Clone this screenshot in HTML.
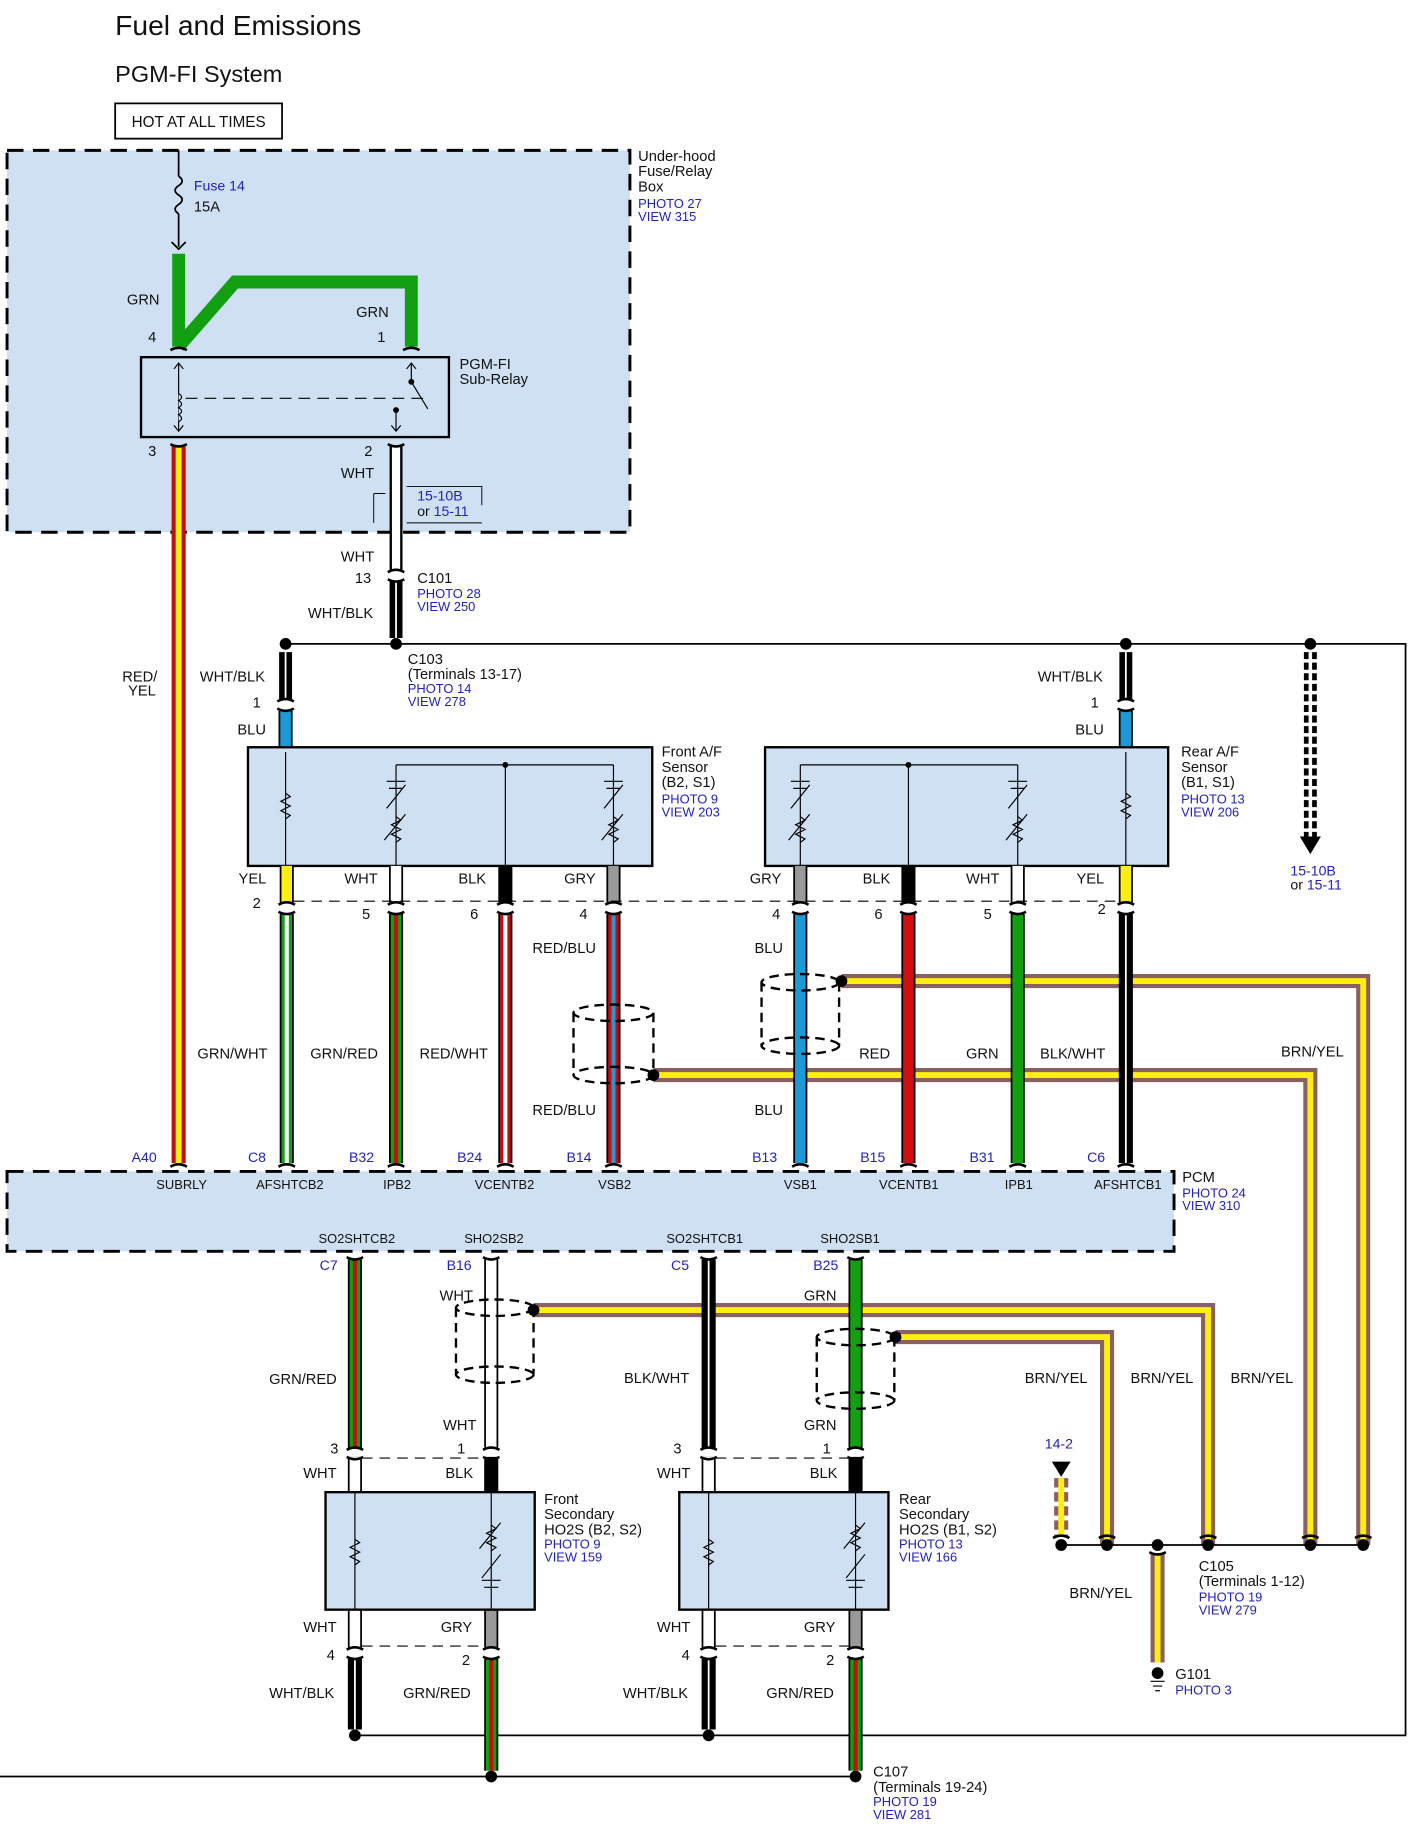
<!DOCTYPE html>
<html><head><meta charset="utf-8"><style>
html,body{margin:0;padding:0;background:#fff}
svg{display:block}
text{font-family:"Liberation Sans",Arial,sans-serif;font-size:12.5px;fill:#111}
.b{fill:#2222bb;font-size:11px}
.s{font-size:11px}
</style></head><body>
<svg width="1422" height="1847" viewBox="0 0 1210 1572" preserveAspectRatio="none" xmlns="http://www.w3.org/2000/svg">
<rect width="1210" height="1572" fill="#fff"/>
<text x="98" y="30" style="font-size:24px">Fuel and Emissions</text>
<text x="98" y="70" style="font-size:20px">PGM-FI System</text>
<rect x="98" y="88" width="142" height="30" fill="#fff" stroke="#000" stroke-width="1.5"/>
<text x="112" y="108" style="font-size:13px">HOT AT ALL TIMES</text>

<!-- fuse box area -->
<rect x="6" y="128" width="530" height="325" fill="#cfe0f3" stroke="#000" stroke-width="2.5" stroke-dasharray="14,8"/>
<text x="543" y="137">Under-hood</text><text x="543" y="150">Fuse/Relay</text><text x="543" y="163">Box</text>
<text x="543" y="177" class="b">PHOTO 27</text><text x="543" y="188" class="b">VIEW 315</text>
<!-- fuse -->
<line x1="152" y1="128" x2="152" y2="150" stroke="#000" stroke-width="1.5"/>
<path d="M152 150 q6 4 0 8 q-6 4 0 8 q6 4 0 8 q-6 4 0 8" fill="none" stroke="#000" stroke-width="1.5"/>
<line x1="152" y1="182" x2="152" y2="210" stroke="#000" stroke-width="1.5"/>
<path d="M146 206 L152 212 L158 206" fill="none" stroke="#000" stroke-width="1.5"/>
<text x="165" y="162" class="b" style="font-size:12px">Fuse 14</text><text x="165" y="180">15A</text>
<!-- green -->
<path d="M152 216 V295 M152 295 L200 240 H350 V295" fill="none" stroke="#12a012" stroke-width="11"/>
<text x="108" y="259">GRN</text><text x="303" y="270">GRN</text>
<text x="126" y="291">4</text><text x="321" y="291">1</text>
<rect x="120" y="304" width="262" height="68" fill="none" stroke="#000" stroke-width="2"/>
<text x="391" y="314">PGM-FI</text><text x="391" y="327">Sub-Relay</text>
<line x1="152" y1="310" x2="152" y2="366" stroke="#000"/>
<path d="M148 314 L152 309 L156 314 M148 362 L152 367 L156 362 M346 314 L350 309 L354 314 M333 362 L337 367 L341 362" fill="none" stroke="#000"/>
<path d="M152 335 q5 3 0 6 q5 3 0 6 q5 3 0 6 q5 3 0 6" fill="#cfe0f3" stroke="#000"/>
<line x1="158" y1="339" x2="360" y2="339" stroke="#000" stroke-dasharray="10,6"/>
<line x1="350" y1="310" x2="350" y2="325" stroke="#000"/><line x1="350" y1="325" x2="364" y2="348" stroke="#000"/>
<circle cx="350" cy="325" r="2.5"/><circle cx="337" cy="349" r="2.5"/>
<line x1="337" y1="349" x2="337" y2="366" stroke="#000"/>
<text x="126" y="388">3</text><text x="310" y="388">2</text>
<!-- RED/YEL -->
<line x1="152" y1="380" x2="152" y2="990" stroke="#c01010" stroke-width="12"/>
<line x1="152" y1="380" x2="152" y2="990" stroke="#ffef10" stroke-width="5"/>
<text x="104" y="580">RED/</text><text x="109" y="592">YEL</text>
<!-- WHT from relay -->
<line x1="337" y1="380" x2="337" y2="485" stroke="#000" stroke-width="11"/>
<line x1="337" y1="380" x2="337" y2="485" stroke="#fff" stroke-width="7"/>
<text x="290" y="407">WHT</text>
<path d="M318 420 V445 M318 420 H328 M346 414 H410 V430 M346 445 H410" fill="none" stroke="#000" stroke-width="0.8"/>
<text x="355" y="426" class="b" style="font-size:12px">15-10B</text><text x="355" y="439" style="font-size:12px">or <tspan fill="#2222bb">15-11</tspan></text>
<text x="290" y="478">WHT</text><text x="302" y="496">13</text>
<line x1="337" y1="495" x2="337" y2="543" stroke="#000" stroke-width="11"/>
<line x1="337" y1="495" x2="337" y2="543" stroke="#fff" stroke-width="1.5"/>
<text x="262" y="526">WHT/BLK</text>
<text x="355" y="496">C101</text><text x="355" y="509" class="b">PHOTO 28</text><text x="355" y="520" class="b">VIEW 250</text>

<!-- main ground line -->
<path d="M243 548 H1196 V1477 H302" fill="none" stroke="#000" stroke-width="1.5"/>
<line x1="0" y1="1512" x2="728" y2="1512" stroke="#000" stroke-width="1.5"/>
<g fill="#000"><circle cx="243" cy="548" r="5"/><circle cx="337" cy="548" r="5"/><circle cx="958" cy="548" r="5"/><circle cx="1115" cy="548" r="5"/>
<circle cx="302" cy="1477" r="5"/><circle cx="603" cy="1477" r="5"/><circle cx="418" cy="1512" r="5"/><circle cx="728" cy="1512" r="5"/></g>
<text x="347" y="565">C103</text><text x="347" y="578">(Terminals 13-17)</text><text x="347" y="590" class="b">PHOTO 14</text><text x="347" y="601" class="b">VIEW 278</text>
<!-- dashed arrow -->
<line x1="1115" y1="555" x2="1115" y2="712" stroke="#000" stroke-width="11" stroke-dasharray="6,3"/>
<line x1="1115" y1="555" x2="1115" y2="712" stroke="#fff" stroke-width="3"/>
<path d="M1106 712 L1124 712 L1115 727 Z"/>
<text x="1098" y="745" class="b" style="font-size:12px">15-10B</text><text x="1098" y="757" style="font-size:12px">or <tspan fill="#2222bb">15-11</tspan></text>

<!-- WHT/BLK drops -->
<g stroke="#000" stroke-width="11"><line x1="243" y1="555" x2="243" y2="595"/><line x1="958" y1="555" x2="958" y2="595"/></g>
<g stroke="#fff" stroke-width="1.5"><line x1="243" y1="555" x2="243" y2="595"/><line x1="958" y1="555" x2="958" y2="595"/></g>
<text x="170" y="580">WHT/BLK</text><text x="883" y="580">WHT/BLK</text>
<text x="215" y="602">1</text><text x="928" y="602">1</text>
<g stroke="#000" stroke-width="12"><line x1="243" y1="605" x2="243" y2="636"/><line x1="958" y1="605" x2="958" y2="636"/></g>
<g stroke="#1a9ad6" stroke-width="9"><line x1="243" y1="605" x2="243" y2="636"/><line x1="958" y1="605" x2="958" y2="636"/></g>
<text x="202" y="625">BLU</text><text x="915" y="625">BLU</text>

<!-- A/F sensors -->
<rect x="211" y="636" width="344" height="101" fill="#cfe0f3" stroke="#000" stroke-width="2"/>
<rect x="651" y="636" width="343" height="101" fill="#cfe0f3" stroke="#000" stroke-width="2"/>
<g stroke="#000" stroke-width="1" fill="none">
<line x1="243" y1="640" x2="243" y2="737"/><line x1="430" y1="651" x2="430" y2="737"/>
<path d="M337 651 H522 M337 651 V737 M522 651 V737"/>
<line x1="773" y1="651" x2="773" y2="737"/><line x1="958" y1="640" x2="958" y2="737"/>
<path d="M681 651 H866 M681 651 V737 M866 651 V737"/>
<path d="M243 675 l4 3 -8 4 8 4 -8 4 8 4 -4 3"/><path d="M958 675 l4 3 -8 4 8 4 -8 4 8 4 -4 3"/>
<path d="M337 695 l4 3 -8 4 8 4 -8 4 8 4 -4 3 M327 715 l18 -22 M522 695 l4 3 -8 4 8 4 -8 4 8 4 -4 3 M512 715 l18 -22 M681 695 l4 3 -8 4 8 4 -8 4 8 4 -4 3 M671 715 l18 -22 M866 695 l4 3 -8 4 8 4 -8 4 8 4 -4 3 M856 715 l18 -22"/>
<path d="M329 665 h16 M331 671 h12 M329 688 l16 -20 M514 665 h16 M516 671 h12 M514 688 l16 -20 M673 665 h16 M675 671 h12 M673 688 l16 -20 M858 665 h16 M860 671 h12 M858 688 l16 -20"/>
</g>
<circle cx="430" cy="651" r="2.5"/><circle cx="773" cy="651" r="2.5"/>
<text x="563" y="644">Front A/F</text><text x="563" y="657">Sensor</text><text x="563" y="670">(B2, S1)</text><text x="563" y="684" class="b">PHOTO 9</text><text x="563" y="695" class="b">VIEW 203</text>
<text x="1005" y="644">Rear A/F</text><text x="1005" y="657">Sensor</text><text x="1005" y="670">(B1, S1)</text><text x="1005" y="684" class="b">PHOTO 13</text><text x="1005" y="695" class="b">VIEW 206</text>

<!-- short stubs under sensors -->
<g stroke="#000" stroke-width="12">
<line x1="244" y1="737" x2="244" y2="768"/><line x1="337" y1="737" x2="337" y2="768"/><line x1="430" y1="737" x2="430" y2="768"/><line x1="522" y1="737" x2="522" y2="768"/>
<line x1="681" y1="737" x2="681" y2="768"/><line x1="773" y1="737" x2="773" y2="768"/><line x1="866" y1="737" x2="866" y2="768"/><line x1="958" y1="737" x2="958" y2="768"/></g>
<g stroke-width="9">
<line x1="244" y1="737" x2="244" y2="768" stroke="#ffef10"/><line x1="337" y1="737" x2="337" y2="768" stroke="#fff"/><line x1="522" y1="737" x2="522" y2="768" stroke="#999"/>
<line x1="681" y1="737" x2="681" y2="768" stroke="#999"/><line x1="866" y1="737" x2="866" y2="768" stroke="#fff"/><line x1="958" y1="737" x2="958" y2="768" stroke="#ffef10"/></g>
<line x1="250" y1="767" x2="952" y2="767" stroke="#000" stroke-dasharray="9,6"/>
<text x="203" y="752">YEL</text><text x="293" y="752">WHT</text><text x="390" y="752">BLK</text><text x="480" y="752">GRY</text>
<text x="638" y="752">GRY</text><text x="734" y="752">BLK</text><text x="822" y="752">WHT</text><text x="916" y="752">YEL</text>
<text x="215" y="773">2</text><text x="308" y="782">5</text><text x="400" y="782">6</text><text x="493" y="782">4</text>
<text x="657" y="782">4</text><text x="744" y="782">6</text><text x="837" y="782">5</text><text x="934" y="778">2</text>

<!-- shield BRN/YEL lines upper -->
<g fill="none">
<path d="M556 915 H1115 V1315" stroke="#8a6060" stroke-width="12"/><path d="M556 915 H1115 V1315" stroke="#ffef10" stroke-width="5"/>
<path d="M716 835 H1160 V1315" stroke="#8a6060" stroke-width="12"/><path d="M716 835 H1160 V1315" stroke="#ffef10" stroke-width="5"/>
</g>
<!-- lower wires A/F -->
<g stroke="#000" stroke-width="12">
<line x1="244" y1="778" x2="244" y2="990"/><line x1="337" y1="778" x2="337" y2="990"/><line x1="430" y1="778" x2="430" y2="990"/><line x1="522" y1="778" x2="522" y2="990"/>
<line x1="681" y1="778" x2="681" y2="990"/><line x1="773" y1="778" x2="773" y2="990"/><line x1="866" y1="778" x2="866" y2="990"/><line x1="958" y1="778" x2="958" y2="990"/></g>
<g stroke-width="9">
<line x1="244" y1="778" x2="244" y2="990" stroke="#12a012"/><line x1="337" y1="778" x2="337" y2="990" stroke="#12a012"/><line x1="430" y1="778" x2="430" y2="990" stroke="#c01010"/><line x1="522" y1="778" x2="522" y2="990" stroke="#c01010"/>
<line x1="681" y1="778" x2="681" y2="990" stroke="#1a9ad6"/><line x1="773" y1="778" x2="773" y2="990" stroke="#d01010"/><line x1="866" y1="778" x2="866" y2="990" stroke="#12a012"/></g>
<g stroke-width="3.5">
<line x1="244" y1="778" x2="244" y2="990" stroke="#fff"/><line x1="337" y1="778" x2="337" y2="990" stroke="#c01010"/><line x1="430" y1="778" x2="430" y2="990" stroke="#fff"/><line x1="522" y1="778" x2="522" y2="990" stroke="#1a9ad6"/>
<line x1="958" y1="778" x2="958" y2="990" stroke="#fff" stroke-width="1.5"/></g>
<!-- shields -->
<g fill="none" stroke="#000" stroke-width="2" stroke-dasharray="8,5">
<ellipse cx="522" cy="862" rx="34" ry="7"/><ellipse cx="522" cy="915" rx="34" ry="7"/><line x1="488" y1="862" x2="488" y2="915"/><line x1="556" y1="862" x2="556" y2="915"/>
<ellipse cx="681" cy="836" rx="33" ry="7"/><ellipse cx="681" cy="890" rx="33" ry="7"/><line x1="648" y1="836" x2="648" y2="890"/><line x1="714" y1="836" x2="714" y2="890"/>
</g>
<circle cx="556" cy="915" r="5"/><circle cx="716" cy="835" r="5"/>
<text x="168" y="901">GRN/WHT</text><text x="264" y="901">GRN/RED</text><text x="357" y="901">RED/WHT</text><text x="453" y="811">RED/BLU</text><text x="453" y="949">RED/BLU</text>
<text x="642" y="811">BLU</text><text x="642" y="949">BLU</text><text x="731" y="901">RED</text><text x="822" y="901">GRN</text><text x="885" y="901">BLK/WHT</text><text x="1090" y="899">BRN/YEL</text>
<text x="112" y="989" class="b" style="font-size:12px">A40</text><text x="211" y="989" class="b" style="font-size:12px">C8</text><text x="297" y="989" class="b" style="font-size:12px">B32</text><text x="389" y="989" class="b" style="font-size:12px">B24</text><text x="482" y="989" class="b" style="font-size:12px">B14</text>
<text x="640" y="989" class="b" style="font-size:12px">B13</text><text x="732" y="989" class="b" style="font-size:12px">B15</text><text x="825" y="989" class="b" style="font-size:12px">B31</text><text x="925" y="989" class="b" style="font-size:12px">C6</text>

<!-- PCM -->
<rect x="6" y="997" width="993" height="68" fill="#cfe0f3" stroke="#000" stroke-width="2.5" stroke-dasharray="14,8"/>
<g class="s"><text x="133" y="1012" class="s">SUBRLY</text><text x="218" y="1012" class="s">AFSHTCB2</text><text x="326" y="1012" class="s">IPB2</text><text x="404" y="1012" class="s">VCENTB2</text><text x="509" y="1012" class="s">VSB2</text>
<text x="667" y="1012" class="s">VSB1</text><text x="748" y="1012" class="s">VCENTB1</text><text x="855" y="1012" class="s">IPB1</text><text x="931" y="1012" class="s">AFSHTCB1</text>
<text x="271" y="1058" class="s">SO2SHTCB2</text><text x="395" y="1058" class="s">SHO2SB2</text><text x="567" y="1058" class="s">SO2SHTCB1</text><text x="698" y="1058" class="s">SHO2SB1</text></g>
<text x="1006" y="1006">PCM</text><text x="1006" y="1019" class="b">PHOTO 24</text><text x="1006" y="1030" class="b">VIEW 310</text>
<text x="272" y="1081" class="b" style="font-size:12px">C7</text><text x="380" y="1081" class="b" style="font-size:12px">B16</text><text x="571" y="1081" class="b" style="font-size:12px">C5</text><text x="692" y="1081" class="b" style="font-size:12px">B25</text>

<!-- lower shield wires -->
<g fill="none">
<path d="M454 1115 H1028 V1315" stroke="#8a6060" stroke-width="12"/><path d="M454 1115 H1028 V1315" stroke="#ffef10" stroke-width="5"/>
<path d="M762 1138 H942 V1315" stroke="#8a6060" stroke-width="12"/><path d="M762 1138 H942 V1315" stroke="#ffef10" stroke-width="5"/>
<path d="M985 1322 V1415" stroke="#8a6060" stroke-width="12"/><path d="M985 1322 V1415" stroke="#ffef10" stroke-width="5"/>
<path d="M903 1258 V1308" stroke="#8a6060" stroke-width="12" stroke-dasharray="8,4"/><path d="M903 1258 V1308" stroke="#ffef10" stroke-width="5"/>
</g>
<path d="M895 1244 L911 1244 L903 1257 Z"/>
<text x="889" y="1233" class="b" style="font-size:12px">14-2</text>
<line x1="903" y1="1315" x2="1160" y2="1315" stroke="#000" stroke-width="1.5"/>
<g><circle cx="903" cy="1315" r="5"/><circle cx="942" cy="1315" r="5"/><circle cx="985" cy="1315" r="5"/><circle cx="1028" cy="1315" r="5"/><circle cx="1115" cy="1315" r="5"/><circle cx="1160" cy="1315" r="5"/></g>
<circle cx="985" cy="1424" r="5"/><path d="M979 1431 h12 M981 1435 h8 M983 1439 h4" stroke="#000"/>
<text x="1000" y="1429">G101</text><text x="1000" y="1442" class="b">PHOTO 3</text>
<text x="1020" y="1337">C105</text><text x="1020" y="1350">(Terminals 1-12)</text><text x="1020" y="1363" class="b">PHOTO 19</text><text x="1020" y="1374" class="b">VIEW 279</text>
<text x="910" y="1360">BRN/YEL</text><text x="872" y="1177">BRN/YEL</text><text x="962" y="1177">BRN/YEL</text><text x="1047" y="1177">BRN/YEL</text>

<!-- lower wires from PCM -->
<g stroke="#000" stroke-width="12">
<line x1="302" y1="1072" x2="302" y2="1232"/><line x1="418" y1="1072" x2="418" y2="1232"/><line x1="603" y1="1072" x2="603" y2="1232"/><line x1="728" y1="1072" x2="728" y2="1232"/>
<line x1="302" y1="1240" x2="302" y2="1270"/><line x1="418" y1="1240" x2="418" y2="1270"/><line x1="603" y1="1240" x2="603" y2="1270"/><line x1="728" y1="1240" x2="728" y2="1270"/>
<line x1="302" y1="1370" x2="302" y2="1402"/><line x1="418" y1="1370" x2="418" y2="1402"/><line x1="603" y1="1370" x2="603" y2="1402"/><line x1="728" y1="1370" x2="728" y2="1402"/>
<line x1="302" y1="1412" x2="302" y2="1472"/><line x1="418" y1="1412" x2="418" y2="1507"/><line x1="603" y1="1412" x2="603" y2="1472"/><line x1="728" y1="1412" x2="728" y2="1507"/></g>
<g stroke-width="9">
<line x1="302" y1="1072" x2="302" y2="1232" stroke="#12a012"/><line x1="418" y1="1072" x2="418" y2="1232" stroke="#fff"/><line x1="728" y1="1072" x2="728" y2="1232" stroke="#12a012"/>
<line x1="302" y1="1240" x2="302" y2="1270" stroke="#fff"/><line x1="603" y1="1240" x2="603" y2="1270" stroke="#fff"/>
<line x1="302" y1="1370" x2="302" y2="1402" stroke="#fff"/><line x1="418" y1="1370" x2="418" y2="1402" stroke="#999"/><line x1="603" y1="1370" x2="603" y2="1402" stroke="#fff"/><line x1="728" y1="1370" x2="728" y2="1402" stroke="#999"/>
<line x1="418" y1="1412" x2="418" y2="1507" stroke="#12a012"/><line x1="728" y1="1412" x2="728" y2="1507" stroke="#12a012"/></g>
<g stroke-width="3.5">
<line x1="302" y1="1072" x2="302" y2="1232" stroke="#c01010"/><line x1="603" y1="1072" x2="603" y2="1232" stroke="#fff" stroke-width="1.5"/>
<line x1="302" y1="1412" x2="302" y2="1472" stroke="#fff" stroke-width="1.5"/><line x1="418" y1="1412" x2="418" y2="1507" stroke="#c01010"/><line x1="603" y1="1412" x2="603" y2="1472" stroke="#fff" stroke-width="1.5"/><line x1="728" y1="1412" x2="728" y2="1507" stroke="#c01010"/></g>
<g fill="none" stroke="#000" stroke-width="2" stroke-dasharray="8,5">
<ellipse cx="421" cy="1113" rx="33" ry="7"/><ellipse cx="421" cy="1170" rx="33" ry="7"/><line x1="388" y1="1113" x2="388" y2="1170"/><line x1="454" y1="1113" x2="454" y2="1170"/>
<ellipse cx="728" cy="1138" rx="33" ry="7"/><ellipse cx="728" cy="1192" rx="33" ry="7"/><line x1="695" y1="1138" x2="695" y2="1192"/><line x1="761" y1="1138" x2="761" y2="1192"/>
</g>
<circle cx="454" cy="1115" r="5"/><circle cx="762" cy="1138" r="5"/>
<line x1="308" y1="1241" x2="412" y2="1241" stroke="#000" stroke-dasharray="9,6"/><line x1="609" y1="1241" x2="722" y2="1241" stroke="#000" stroke-dasharray="9,6"/>
<line x1="308" y1="1401" x2="412" y2="1401" stroke="#000" stroke-dasharray="9,6"/><line x1="609" y1="1401" x2="722" y2="1401" stroke="#000" stroke-dasharray="9,6"/>
<text x="374" y="1107">WHT</text><text x="684" y="1107">GRN</text><text x="229" y="1178">GRN/RED</text><text x="531" y="1177">BLK/WHT</text>
<text x="377" y="1217">WHT</text><text x="684" y="1217">GRN</text>
<text x="281" y="1237">3</text><text x="389" y="1237">1</text><text x="573" y="1237">3</text><text x="700" y="1237">1</text>
<text x="258" y="1258">WHT</text><text x="379" y="1258">BLK</text><text x="559" y="1258">WHT</text><text x="689" y="1258">BLK</text>
<!-- secondary sensors -->
<rect x="277" y="1270" width="178" height="100" fill="#cfe0f3" stroke="#000" stroke-width="2"/>
<rect x="578" y="1270" width="178" height="100" fill="#cfe0f3" stroke="#000" stroke-width="2"/>
<g stroke="#000" fill="none">
<line x1="302" y1="1270" x2="302" y2="1370"/><line x1="418" y1="1270" x2="418" y2="1370"/><line x1="603" y1="1270" x2="603" y2="1370"/><line x1="728" y1="1270" x2="728" y2="1370"/>
<path d="M302 1310 l4 3 -8 4 8 4 -8 4 8 4 -4 3 M603 1310 l4 3 -8 4 8 4 -8 4 8 4 -4 3"/>
<path d="M418 1298 l4 3 -8 4 8 4 -8 4 8 4 -4 3 M408 1318 l18 -22 M728 1298 l4 3 -8 4 8 4 -8 4 8 4 -4 3 M718 1318 l18 -22"/>
<path d="M410 1345 h16 M412 1351 h12 M410 1343 l16 -20 M720 1345 h16 M722 1351 h12 M720 1343 l16 -20"/>
</g>
<text x="463" y="1280">Front</text><text x="463" y="1293">Secondary</text><text x="463" y="1306">HO2S (B2, S2)</text><text x="463" y="1318" class="b">PHOTO 9</text><text x="463" y="1329" class="b">VIEW 159</text>
<text x="765" y="1280">Rear</text><text x="765" y="1293">Secondary</text><text x="765" y="1306">HO2S (B1, S2)</text><text x="765" y="1318" class="b">PHOTO 13</text><text x="765" y="1329" class="b">VIEW 166</text>
<text x="258" y="1389">WHT</text><text x="375" y="1389">GRY</text><text x="559" y="1389">WHT</text><text x="684" y="1389">GRY</text>
<text x="278" y="1413">4</text><text x="393" y="1417">2</text><text x="580" y="1413">4</text><text x="703" y="1417">2</text>
<text x="229" y="1445">WHT/BLK</text><text x="343" y="1445">GRN/RED</text><text x="530" y="1445">WHT/BLK</text><text x="652" y="1445">GRN/RED</text>
<text x="743" y="1512">C107</text><text x="743" y="1525">(Terminals 19-24)</text><text x="743" y="1537" class="b">PHOTO 19</text><text x="743" y="1548" class="b">VIEW 281</text>

<!-- connector caps -->
<g fill="none" stroke="#000" stroke-width="2.2">
<path d="M145 298 q7 -4 14 0 M343 298 q7 -4 14 0 M145 378 q7 4 14 0 M330 378 q7 4 14 0"/>
<path d="M330 487 q7 -4 14 0 M330 493 q7 4 14 0 M236 597 q7 -4 14 0 M236 603 q7 4 14 0 M951 597 q7 -4 14 0 M951 603 q7 4 14 0"/>
<path d="M237 770 q7 -4 14 0 M237 776 q7 4 14 0 M330 770 q7 -4 14 0 M330 776 q7 4 14 0 M423 770 q7 -4 14 0 M423 776 q7 4 14 0 M515 770 q7 -4 14 0 M515 776 q7 4 14 0"/>
<path d="M674 770 q7 -4 14 0 M674 776 q7 4 14 0 M766 770 q7 -4 14 0 M766 776 q7 4 14 0 M859 770 q7 -4 14 0 M859 776 q7 4 14 0 M951 770 q7 -4 14 0 M951 776 q7 4 14 0"/>
<path d="M145 993 q7 -4 14 0 M237 993 q7 -4 14 0 M330 993 q7 -4 14 0 M423 993 q7 -4 14 0 M515 993 q7 -4 14 0 M674 993 q7 -4 14 0 M766 993 q7 -4 14 0 M859 993 q7 -4 14 0 M951 993 q7 -4 14 0"/>
<path d="M295 1070 q7 4 14 0 M411 1070 q7 4 14 0 M596 1070 q7 4 14 0 M721 1070 q7 4 14 0"/>
<path d="M295 1234 q7 -4 14 0 M295 1240 q7 4 14 0 M411 1234 q7 -4 14 0 M411 1240 q7 4 14 0 M596 1234 q7 -4 14 0 M596 1240 q7 4 14 0 M721 1234 q7 -4 14 0 M721 1240 q7 4 14 0"/>
<path d="M295 1404 q7 -4 14 0 M295 1410 q7 4 14 0 M411 1404 q7 -4 14 0 M411 1410 q7 4 14 0 M596 1404 q7 -4 14 0 M596 1410 q7 4 14 0 M721 1404 q7 -4 14 0 M721 1410 q7 4 14 0"/>
<path d="M896 1309 q7 -4 14 0 M935 1309 q7 -4 14 0 M1021 1309 q7 -4 14 0 M1108 1309 q7 -4 14 0 M1153 1309 q7 -4 14 0 M978 1321 q7 4 14 0"/>
</g>
</svg>
</body></html>
